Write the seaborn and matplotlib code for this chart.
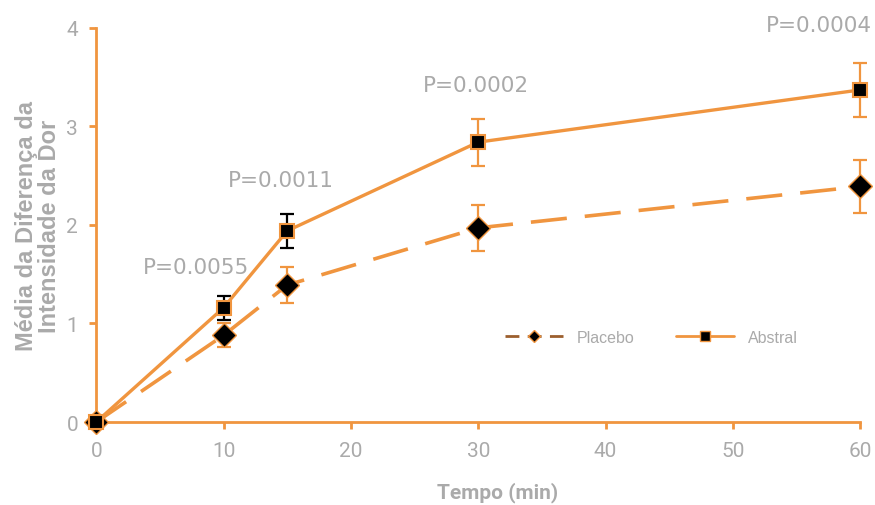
import numpy as np
import pandas as pd
import matplotlib
matplotlib.use("Agg")
import matplotlib.pyplot as plt
import seaborn as sns
from matplotlib.lines import Line2D

time_min = [0, 10, 15, 30, 60]
placebo = [0.0, 0.88, 1.39, 1.97, 2.39]
placebo_err = [0.0, 0.12, 0.18, 0.23, 0.27]
abstral = [0.0, 1.16, 1.94, 2.84, 3.37]
abstral_err = [0.0, 0.12, 0.17, 0.24, 0.27]
p_labels = ["P=0.0055", "P=0.0011", "P=0.0002", "P=0.0004"]
p_x = [7.8, 14.5, 29.8, 56.8]
p_y = [1.57, 2.46, 3.42, 4.03]

ORANGE = "#F0953F"
GRAY = "#AAAAAA"
BROWN = "#9C5F2E"

sns.set_theme(style="white")
plt.rcParams['font.family'] = ['DejaVu Sans']

fig = plt.figure(figsize=(8.75, 5.06), dpi=100)
ax = fig.add_axes([0.11, 0.164, 0.873, 0.779])

df = pd.DataFrame({
    "Tempo": time_min * 2,
    "valor": placebo + abstral,
    "grupo": ["Placebo"] * len(time_min) + ["Abstral"] * len(time_min),
})

# error bars
ab_err_colors = [ORANGE, "black", "black", ORANGE, ORANGE]
for x, y, e in zip(time_min, placebo, placebo_err):
    if e > 0:
        ax.errorbar(x, y, yerr=e, fmt="none", ecolor=ORANGE, elinewidth=1.6,
                    capsize=5, capthick=1.6, zorder=2, clip_on=False)
for x, y, e, c in zip(time_min, abstral, abstral_err, ab_err_colors):
    if e > 0:
        ax.errorbar(x, y, yerr=e, fmt="none", ecolor=c, elinewidth=1.6,
                    capsize=5, capthick=1.6, zorder=2, clip_on=False)

sns.lineplot(data=df[df.grupo == "Placebo"], x="Tempo", y="valor", ax=ax,
             color=ORANGE, lw=2.6, marker="D", markersize=12,
             markerfacecolor="black", markeredgecolor=ORANGE, markeredgewidth=1.0,
             dashes=False, linestyle=(0, (10, 5)), zorder=3, legend=False,
             clip_on=False)
sns.lineplot(data=df[df.grupo == "Abstral"], x="Tempo", y="valor", ax=ax,
             color=ORANGE, lw=2.4, marker="s", markersize=10,
             markerfacecolor="black", markeredgecolor=ORANGE, markeredgewidth=1.5,
             zorder=4, legend=False, clip_on=False)

for t, x, y in zip(p_labels, p_x, p_y):
    ax.text(x, y, t, ha="center", va="center", fontsize=15.5, color=GRAY,
            clip_on=False)

ax.set_xlim(0, 60)
ax.set_ylim(0, 4)
ax.set_xticks([0, 10, 20, 30, 40, 50, 60])
ax.set_yticks([0, 1, 2, 3, 4])
for s in ["top", "right"]:
    ax.spines[s].set_visible(False)
for s in ["left", "bottom"]:
    ax.spines[s].set_color(ORANGE)
    ax.spines[s].set_linewidth(2)
ax.tick_params(axis="both", colors=ORANGE, direction="out", length=5, width=2,
               labelcolor=GRAY, bottom=True, left=True, labelsize=15,
               labelfontfamily="Roboto")
ax.tick_params(axis="x", pad=9)
ax.tick_params(axis="y", pad=8)

ax.set_xlabel("Tempo (min)", fontsize=15, fontweight="bold", color=GRAY,
              family=["Roboto", "DejaVu Sans"])
ax.xaxis.set_label_coords(0.526, -0.15)
ax.set_ylabel("Média da Diferença da\nIntensidade da Dor", fontsize=17,
              fontweight="bold", color=GRAY, linespacing=1.0,
              family=["Liberation Sans", "DejaVu Sans"])
ax.yaxis.set_label_coords(-0.046, 0.5)

handles = [
    Line2D([0], [0], color=BROWN, lw=2, linestyle=(0, (5, 3)), marker="D",
           markersize=6, markerfacecolor="black", markeredgecolor=ORANGE),
    Line2D([0], [0], color=ORANGE, lw=2, marker="s", markersize=7,
           markerfacecolor="black", markeredgecolor=ORANGE),
]
ax.legend(handles, ["Placebo", "Abstral"], loc="center", ncol=2,
          bbox_to_anchor=(0.727, 0.215), frameon=False, labelcolor=GRAY,
          prop={"family": ["Liberation Sans", "DejaVu Sans"], "size": 11.5},
          columnspacing=2.6, handlelength=3.6, handletextpad=0.9)

fig.savefig("out.png", dpi=100)
